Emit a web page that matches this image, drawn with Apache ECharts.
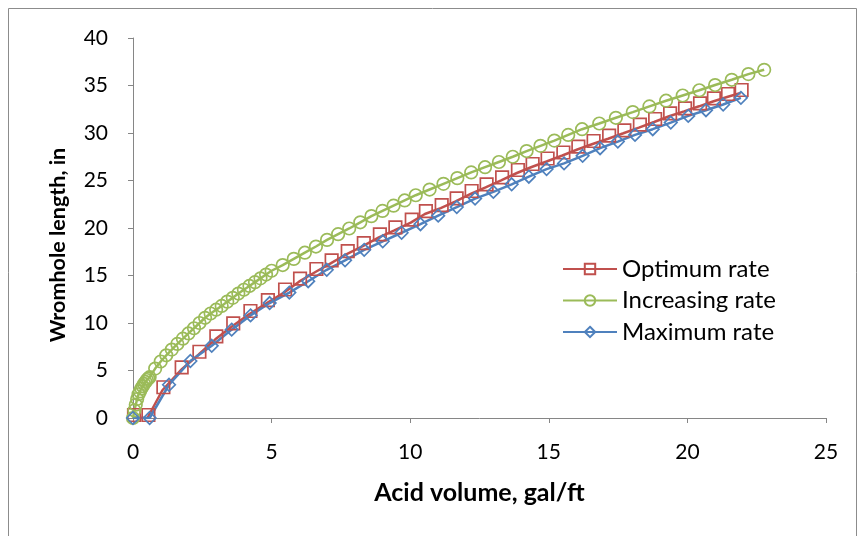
<!DOCTYPE html>
<html><head><meta charset="utf-8">
<script src="https://cdn.jsdelivr.net/npm/echarts@6/dist/echarts.min.js"></script>
<style>html,body{margin:0;padding:0;background:#fff}#c{width:862px;height:536px}</style>
</head><body><div id="c"></div>
<script>
// Optimum rate
const optX = [0,0.52,1.06,1.72,2.36,2.97,3.58,4.2,4.83,5.45,5.99,6.58,7.13,7.71,8.29,8.87,9.43,10.02,10.53,11.1,11.64,12.18,12.72,13.28,13.85,14.38,14.92,15.49,16.03,16.58,17.14,17.69,18.25,18.8,19.34,19.88,20.42,20.92,21.43,21.92];
const optY = [0,0,2.92,5.02,6.66,8.28,9.65,10.95,12.1,13.21,14.35,15.37,16.28,17.26,18.1,19.02,19.76,20.56,21.47,22.1,22.81,23.58,24.28,25.02,25.79,26.42,27.0,27.63,28.26,28.84,29.4,29.97,30.56,31.16,31.76,32.28,32.81,33.32,33.79,34.21];
// Increasing rate
const incX = [0,0.05,0.1,0.15,0.2,0.25,0.3,0.35,0.4,0.45,0.5,0.55,0.6,
  0.8,1.0,1.2,1.4,1.6,1.8,2.0,2.2,2.4,2.6,2.8,3.0,3.2,3.4,3.6,3.8,4.0,4.2,4.4,4.6,4.8,5.0,
  5.4,5.8,6.2,6.6,7.0,7.4,7.8,8.2,8.6,9.0,9.4,9.8,10.2,
  10.7,11.2,11.7,12.2,12.7,13.2,13.7,14.2,14.7,15.2,15.7,16.2,
  16.82,17.42,18.03,18.63,19.23,19.83,20.43,21.0,21.6,22.2,22.77];
const incY = [0,0.8,1.4,2.0,2.5,2.8,3.1,3.35,3.6,3.8,4.0,4.15,4.3,
  5.2,5.95,6.6,7.2,7.8,8.35,8.9,9.45,10.0,10.55,11.0,11.4,11.8,12.25,12.65,13.1,13.5,13.9,14.3,14.7,15.1,15.5,
  16.1,16.75,17.4,18.05,18.75,19.35,19.95,20.6,21.25,21.8,22.35,22.9,23.45,
  24.05,24.65,25.25,25.85,26.4,26.95,27.5,28.1,28.65,29.2,29.8,30.4,
  31.0,31.6,32.2,32.8,33.4,33.95,34.5,35.05,35.6,36.2,36.65];
// Maximum rate
const maxX = [0,0.6,1.3,2.07,2.84,3.56,4.24,4.93,5.64,6.32,6.99,7.65,8.34,9.01,9.69,10.37,11.01,11.68,12.34,13.0,13.66,14.28,14.92,15.55,16.22,16.85,17.49,18.11,18.75,19.4,20.03,20.67,21.29,21.93];
const maxY = [0,0,3.5,6.0,7.6,9.3,10.8,12.1,13.2,14.4,15.6,16.6,17.7,18.6,19.5,20.4,21.3,22.2,23.1,23.8,24.6,25.4,26.2,26.8,27.6,28.4,29.1,29.8,30.4,31.1,31.8,32.4,33.0,33.7];

const xTicks = [0,5,10,15,20,25];
const yTicks = [0,5,10,15,20,25,30,35,40];
const seriesNames = ['Optimum rate','Increasing rate','Maximum rate'];
const seriesColors = ['#C0504D','#9BBB59','#4F81BD'];

const zip = (xs, ys) => xs.map((x, i) => [x, ys[i]]);
const FONT = 'Lato';

const chart = echarts.init(document.getElementById('c'), null, {renderer: 'canvas'});
const mk = (name, color, data, symbol, size, offset) => ({
  name, type: 'line', data, symbol, symbolSize: size, symbolOffset: offset,
  showSymbol: true,
  lineStyle: {color, width: 2.5},
  itemStyle: {color: 'rgba(255,255,255,0)', borderColor: color, borderWidth: 1.7},
  emphasis: {disabled: true}
});
chart.setOption({
  animation: false,
  backgroundColor: '#fff',
  textStyle: {fontFamily: FONT},
  graphic: [{type: 'rect', shape: {x: 8.5, y: 8.5, width: 848, height: 540}, style: {fill: 'none', stroke: '#8c8c8c', lineWidth: 1}, silent: true}],
  grid: {left: 133, right: 36, top: 38, bottom: 118},
  legend: {
    orient: 'vertical', left: 557, top: 252, itemWidth: 54, itemHeight: 13, itemGap: 7.5,
    textStyle: {fontFamily: FONT, fontSize: 24, color: '#000'},
    data: seriesNames
  },
  xAxis: {
    type: 'value', min: xTicks[0], max: xTicks[xTicks.length-1], interval: 5,
    name: 'Acid volume, gal/ft', nameLocation: 'middle', nameGap: 62,
    nameTextStyle: {fontFamily: FONT, fontSize: 25, fontWeight: 'bold', color: '#000'},
    axisLine: {lineStyle: {color: '#868686', width: 1}},
    axisTick: {show: true, length: 5, lineStyle: {color: '#868686'}},
    axisLabel: {fontFamily: FONT, fontSize: 21, color: '#000', margin: 24},
    splitLine: {show: false}
  },
  yAxis: {
    type: 'value', min: yTicks[0], max: yTicks[yTicks.length-1], interval: 5,
    name: 'Wromhole length, in', nameLocation: 'middle', nameGap: 64,
    nameTextStyle: {fontFamily: FONT, fontSize: 21.5, fontWeight: 'bold', color: '#000', padding: [0, 34, 0, 0]},
    axisLine: {show: true, lineStyle: {color: '#868686', width: 1}},
    axisTick: {show: true, length: 5, lineStyle: {color: '#868686'}},
    axisLabel: {fontFamily: FONT, fontSize: 21, color: '#000', margin: 25},
    splitLine: {show: false}
  },
  series: [
    mk(seriesNames[0], seriesColors[0], zip(optX, optY), 'rect', 12.5, [1, -3]),
    mk(seriesNames[1], seriesColors[1], zip(incX, incY), 'circle', 12.5, [0, 0]),
    mk(seriesNames[2], seriesColors[2], zip(maxX, maxY), 'diamond', 12.5, [0, 0])
  ]
});
</script></body></html>
